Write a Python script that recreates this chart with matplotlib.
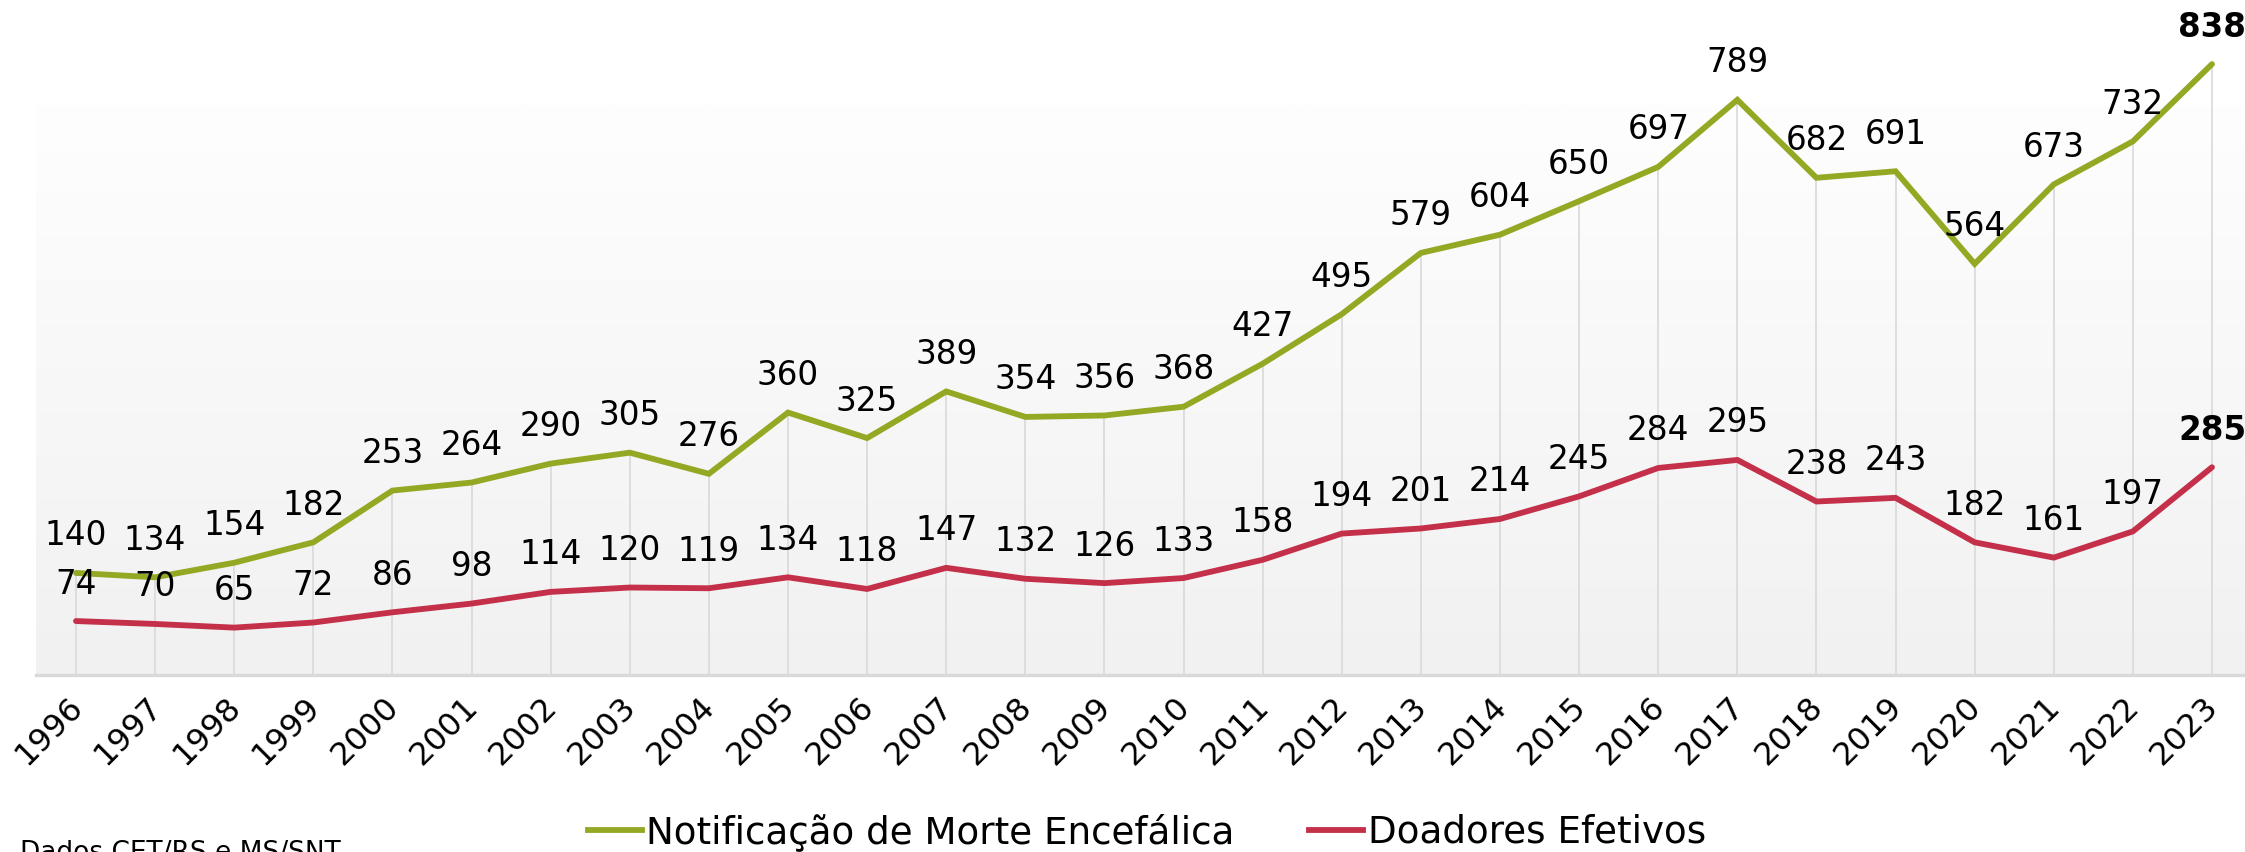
import numpy as np
import matplotlib
matplotlib.use("Agg")
import matplotlib.pyplot as plt
from matplotlib.lines import Line2D
from matplotlib.colors import LinearSegmentedColormap

years = list(range(1996, 2024))
notificacoes = [140, 134, 154, 182, 253, 264, 290, 305, 276, 360, 325, 389, 354, 356,
                368, 427, 495, 579, 604, 650, 697, 789, 682, 691, 564, 673, 732, 838]
doadores = [74, 70, 65, 72, 86, 98, 114, 120, 119, 134, 118, 147, 132, 126,
            133, 158, 194, 201, 214, 245, 284, 295, 238, 243, 182, 161, 197, 285]
series_names = ["Notificação de Morte Encefálica", "Doadores Efetivos"]
source_text = "Dados CET/RS e MS/SNT"

GREEN = "#95a823"
RED = "#c4304a"
GRID = "#d9d9d9"

plt.rcParams['font.family'] = ['DejaVu Sans']

W, H = 2245, 852
fig = plt.figure(figsize=(W / 100, H / 100), dpi=100)
ax = fig.add_axes([36 / W, 177 / H, 1 - 36 / W, 675 / H])
ax.set_facecolor("white")

x0 = years[0] - 40 / 79.1
x1 = years[-1] + 33 / 79.1
ytop = 675 / 0.729
ax.set_xlim(x0, x1)
ax.set_ylim(0, ytop)

# gradient plot-area background
grad_top = (675 - 105) / 0.729
cmap = LinearSegmentedColormap.from_list("bg", ["#f1f1f1", "#fefefe"])
grad = np.linspace(0, 1, 256).reshape(-1, 1)
ax.imshow(grad, aspect="auto", cmap=cmap, origin="lower",
          extent=[x0, x1, 0, grad_top], zorder=0, interpolation="bilinear")

# drop lines
ax.vlines(years, 0, notificacoes, color=GRID, lw=1.2, zorder=1)
ax.axhline(0, color=GRID, lw=2.4, zorder=2, clip_on=False)

ax.plot(years, notificacoes, color=GREEN, lw=4.2, zorder=3,
        solid_capstyle="round", solid_joinstyle="miter")
ax.plot(years, doadores, color=RED, lw=4.2, zorder=3,
        solid_capstyle="round", solid_joinstyle="miter")

for series in (notificacoes, doadores):
    for i, (yr, v) in enumerate(zip(years, series)):
        bold = i == len(years) - 1
        ax.annotate(str(v), xy=(yr, v), xytext=(0, 37), textcoords="offset pixels",
                    ha="center", va="center", fontsize=23.5,
                    fontweight="bold" if bold else "normal", color="black",
                    zorder=5, annotation_clip=False)

ax.set_xticks([])
ax.set_yticks([])
for s in ax.spines.values():
    s.set_visible(False)

for yr in years:
    ax.annotate(str(yr), xy=(yr, 0), xytext=(-27, -56), textcoords="offset pixels",
                rotation=45, rotation_mode="anchor", ha="center", va="center",
                fontsize=23, color="black", annotation_clip=False)

handles = [Line2D([], [], color=GREEN, lw=4.2), Line2D([], [], color=RED, lw=4.2)]
fig.legend(handles, series_names, loc="center", bbox_to_anchor=(1147 / W, 1 - 832 / H),
           ncol=2, frameon=False, fontsize=26.8, handlelength=1.45,
           handletextpad=0.12, columnspacing=2.0, borderaxespad=0, borderpad=0)

fig.text(20 / W, 1 - 840 / H, source_text, ha="left", va="top", fontsize=19,
         color="black")

fig.savefig("out.png", dpi=100, facecolor="white")
